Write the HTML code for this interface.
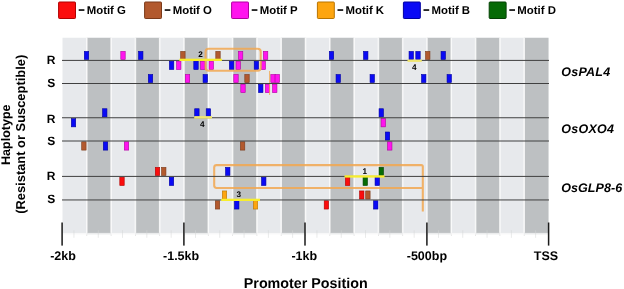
<!DOCTYPE html>
<html><head><meta charset="utf-8"><title>Promoter motifs</title>
<style>
html,body{margin:0;padding:0;background:#fff;}
body{width:624px;height:289px;overflow:hidden;font-family:"Liberation Sans",sans-serif;}
svg{display:block;will-change:transform;}
text{font-family:"Liberation Sans",sans-serif;font-weight:bold;fill:#000;text-rendering:geometricPrecision;}
</style></head><body>
<svg width="624" height="289" viewBox="0 0 624 289">
<rect x="0" y="0" width="624" height="289" fill="#fff"/>
<rect x="62.50" y="37.75" width="24.35" height="195.15" fill="#e7e9ec"/>
<rect x="86.80" y="37.75" width="24.35" height="195.15" fill="#bdc0c2"/>
<rect x="111.10" y="37.75" width="24.35" height="195.15" fill="#e7e9ec"/>
<rect x="135.40" y="37.75" width="24.35" height="195.15" fill="#bdc0c2"/>
<rect x="159.70" y="37.75" width="24.35" height="195.15" fill="#e7e9ec"/>
<rect x="184.00" y="37.75" width="24.35" height="195.15" fill="#bdc0c2"/>
<rect x="208.30" y="37.75" width="24.35" height="195.15" fill="#e7e9ec"/>
<rect x="232.60" y="37.75" width="24.35" height="195.15" fill="#bdc0c2"/>
<rect x="256.90" y="37.75" width="24.35" height="195.15" fill="#e7e9ec"/>
<rect x="281.20" y="37.75" width="24.35" height="195.15" fill="#bdc0c2"/>
<rect x="305.50" y="37.75" width="24.35" height="195.15" fill="#e7e9ec"/>
<rect x="329.80" y="37.75" width="24.35" height="195.15" fill="#bdc0c2"/>
<rect x="354.10" y="37.75" width="24.35" height="195.15" fill="#e7e9ec"/>
<rect x="378.40" y="37.75" width="24.35" height="195.15" fill="#bdc0c2"/>
<rect x="402.70" y="37.75" width="24.35" height="195.15" fill="#e7e9ec"/>
<rect x="427.00" y="37.75" width="24.35" height="195.15" fill="#bdc0c2"/>
<rect x="451.30" y="37.75" width="24.35" height="195.15" fill="#e7e9ec"/>
<rect x="475.60" y="37.75" width="24.35" height="195.15" fill="#bdc0c2"/>
<rect x="499.90" y="37.75" width="24.35" height="195.15" fill="#e7e9ec"/>
<rect x="524.20" y="37.75" width="24.35" height="195.15" fill="#bdc0c2"/>
<rect x="86.00" y="37.75" width="1.6" height="195.15" fill="#fff" opacity="0.75"/>
<rect x="110.30" y="37.75" width="1.6" height="195.15" fill="#fff" opacity="0.75"/>
<rect x="134.60" y="37.75" width="1.6" height="195.15" fill="#fff" opacity="0.75"/>
<rect x="158.90" y="37.75" width="1.6" height="195.15" fill="#fff" opacity="0.75"/>
<rect x="183.20" y="37.75" width="1.6" height="195.15" fill="#fff" opacity="0.75"/>
<rect x="207.50" y="37.75" width="1.6" height="195.15" fill="#fff" opacity="0.75"/>
<rect x="231.80" y="37.75" width="1.6" height="195.15" fill="#fff" opacity="0.75"/>
<rect x="256.10" y="37.75" width="1.6" height="195.15" fill="#fff" opacity="0.75"/>
<rect x="280.40" y="37.75" width="1.6" height="195.15" fill="#fff" opacity="0.75"/>
<rect x="304.70" y="37.75" width="1.6" height="195.15" fill="#fff" opacity="0.75"/>
<rect x="329.00" y="37.75" width="1.6" height="195.15" fill="#fff" opacity="0.75"/>
<rect x="353.30" y="37.75" width="1.6" height="195.15" fill="#fff" opacity="0.75"/>
<rect x="377.60" y="37.75" width="1.6" height="195.15" fill="#fff" opacity="0.75"/>
<rect x="401.90" y="37.75" width="1.6" height="195.15" fill="#fff" opacity="0.75"/>
<rect x="426.20" y="37.75" width="1.6" height="195.15" fill="#fff" opacity="0.75"/>
<rect x="450.50" y="37.75" width="1.6" height="195.15" fill="#fff" opacity="0.75"/>
<rect x="474.80" y="37.75" width="1.6" height="195.15" fill="#fff" opacity="0.75"/>
<rect x="499.10" y="37.75" width="1.6" height="195.15" fill="#fff" opacity="0.75"/>
<rect x="523.40" y="37.75" width="1.6" height="195.15" fill="#fff" opacity="0.75"/>
<rect x="62.50" y="232.9" width="24.35" height="1.6" fill="#e7e9ec" opacity="0.3"/>
<rect x="86.80" y="232.9" width="24.35" height="1.6" fill="#bdc0c2" opacity="0.3"/>
<rect x="111.10" y="232.9" width="24.35" height="1.6" fill="#e7e9ec" opacity="0.3"/>
<rect x="135.40" y="232.9" width="24.35" height="1.6" fill="#bdc0c2" opacity="0.3"/>
<rect x="159.70" y="232.9" width="24.35" height="1.6" fill="#e7e9ec" opacity="0.3"/>
<rect x="184.00" y="232.9" width="24.35" height="1.6" fill="#bdc0c2" opacity="0.3"/>
<rect x="208.30" y="232.9" width="24.35" height="1.6" fill="#e7e9ec" opacity="0.3"/>
<rect x="232.60" y="232.9" width="24.35" height="1.6" fill="#bdc0c2" opacity="0.3"/>
<rect x="256.90" y="232.9" width="24.35" height="1.6" fill="#e7e9ec" opacity="0.3"/>
<rect x="281.20" y="232.9" width="24.35" height="1.6" fill="#bdc0c2" opacity="0.3"/>
<rect x="305.50" y="232.9" width="24.35" height="1.6" fill="#e7e9ec" opacity="0.3"/>
<rect x="329.80" y="232.9" width="24.35" height="1.6" fill="#bdc0c2" opacity="0.3"/>
<rect x="354.10" y="232.9" width="24.35" height="1.6" fill="#e7e9ec" opacity="0.3"/>
<rect x="378.40" y="232.9" width="24.35" height="1.6" fill="#bdc0c2" opacity="0.3"/>
<rect x="402.70" y="232.9" width="24.35" height="1.6" fill="#e7e9ec" opacity="0.3"/>
<rect x="427.00" y="232.9" width="24.35" height="1.6" fill="#bdc0c2" opacity="0.3"/>
<rect x="451.30" y="232.9" width="24.35" height="1.6" fill="#e7e9ec" opacity="0.3"/>
<rect x="475.60" y="232.9" width="24.35" height="1.6" fill="#bdc0c2" opacity="0.3"/>
<rect x="499.90" y="232.9" width="24.35" height="1.6" fill="#e7e9ec" opacity="0.3"/>
<rect x="524.20" y="232.9" width="24.35" height="1.6" fill="#bdc0c2" opacity="0.3"/>
<rect x="73.50" y="230.2" width="0.9" height="7.6" fill="#d4d5d6" opacity="0.55"/>
<rect x="97.80" y="230.2" width="0.9" height="7.6" fill="#d4d5d6" opacity="0.55"/>
<rect x="122.10" y="230.2" width="0.9" height="7.6" fill="#d4d5d6" opacity="0.55"/>
<rect x="146.40" y="230.2" width="0.9" height="7.6" fill="#d4d5d6" opacity="0.55"/>
<rect x="170.70" y="230.2" width="0.9" height="7.6" fill="#d4d5d6" opacity="0.55"/>
<rect x="195.00" y="230.2" width="0.9" height="7.6" fill="#d4d5d6" opacity="0.55"/>
<rect x="219.30" y="230.2" width="0.9" height="7.6" fill="#d4d5d6" opacity="0.55"/>
<rect x="243.60" y="230.2" width="0.9" height="7.6" fill="#d4d5d6" opacity="0.55"/>
<rect x="267.90" y="230.2" width="0.9" height="7.6" fill="#d4d5d6" opacity="0.55"/>
<rect x="292.20" y="230.2" width="0.9" height="7.6" fill="#d4d5d6" opacity="0.55"/>
<rect x="316.50" y="230.2" width="0.9" height="7.6" fill="#d4d5d6" opacity="0.55"/>
<rect x="340.80" y="230.2" width="0.9" height="7.6" fill="#d4d5d6" opacity="0.55"/>
<rect x="365.10" y="230.2" width="0.9" height="7.6" fill="#d4d5d6" opacity="0.55"/>
<rect x="389.40" y="230.2" width="0.9" height="7.6" fill="#d4d5d6" opacity="0.55"/>
<rect x="413.70" y="230.2" width="0.9" height="7.6" fill="#d4d5d6" opacity="0.55"/>
<rect x="438.00" y="230.2" width="0.9" height="7.6" fill="#d4d5d6" opacity="0.55"/>
<rect x="462.30" y="230.2" width="0.9" height="7.6" fill="#d4d5d6" opacity="0.55"/>
<rect x="486.60" y="230.2" width="0.9" height="7.6" fill="#d4d5d6" opacity="0.55"/>
<rect x="510.90" y="230.2" width="0.9" height="7.6" fill="#d4d5d6" opacity="0.55"/>
<rect x="535.20" y="230.2" width="0.9" height="7.6" fill="#d4d5d6" opacity="0.55"/>
<rect x="86.40" y="234.5" width="0.8" height="1.4" fill="#dedede"/>
<rect x="110.70" y="234.5" width="0.8" height="1.4" fill="#dedede"/>
<rect x="135.00" y="234.5" width="0.8" height="1.4" fill="#dedede"/>
<rect x="159.30" y="234.5" width="0.8" height="1.4" fill="#dedede"/>
<rect x="183.60" y="234.5" width="0.8" height="1.4" fill="#dedede"/>
<rect x="207.90" y="234.5" width="0.8" height="1.4" fill="#dedede"/>
<rect x="232.20" y="234.5" width="0.8" height="1.4" fill="#dedede"/>
<rect x="256.50" y="234.5" width="0.8" height="1.4" fill="#dedede"/>
<rect x="280.80" y="234.5" width="0.8" height="1.4" fill="#dedede"/>
<rect x="305.10" y="234.5" width="0.8" height="1.4" fill="#dedede"/>
<rect x="329.40" y="234.5" width="0.8" height="1.4" fill="#dedede"/>
<rect x="353.70" y="234.5" width="0.8" height="1.4" fill="#dedede"/>
<rect x="378.00" y="234.5" width="0.8" height="1.4" fill="#dedede"/>
<rect x="402.30" y="234.5" width="0.8" height="1.4" fill="#dedede"/>
<rect x="426.60" y="234.5" width="0.8" height="1.4" fill="#dedede"/>
<rect x="450.90" y="234.5" width="0.8" height="1.4" fill="#dedede"/>
<rect x="475.20" y="234.5" width="0.8" height="1.4" fill="#dedede"/>
<rect x="499.50" y="234.5" width="0.8" height="1.4" fill="#dedede"/>
<rect x="523.80" y="234.5" width="0.8" height="1.4" fill="#dedede"/>
<rect x="58.60" y="2.0" width="16.9" height="16.5" rx="0.8" fill="#fb0d0d" stroke="#b00000" stroke-width="1"/>
<rect x="78.70" y="9.2" width="5.7" height="1.7" fill="#111"/>
<text x="86.70" y="13.8" font-size="11.4">Motif G</text>
<rect x="144.60" y="2.0" width="16.9" height="16.5" rx="0.8" fill="#b2592e" stroke="#7a3a1a" stroke-width="1"/>
<rect x="164.70" y="9.2" width="5.7" height="1.7" fill="#111"/>
<text x="172.70" y="13.8" font-size="11.4">Motif O</text>
<rect x="231.60" y="2.0" width="16.9" height="16.5" rx="0.8" fill="#ff14ee" stroke="#b000a0" stroke-width="1"/>
<rect x="251.70" y="9.2" width="5.7" height="1.7" fill="#111"/>
<text x="259.70" y="13.8" font-size="11.4">Motif P</text>
<rect x="317.40" y="2.0" width="16.9" height="16.5" rx="0.8" fill="#fda50f" stroke="#b87400" stroke-width="1"/>
<rect x="337.50" y="9.2" width="5.7" height="1.7" fill="#111"/>
<text x="345.50" y="13.8" font-size="11.4">Motif K</text>
<rect x="403.40" y="2.0" width="16.9" height="16.5" rx="0.8" fill="#0a0af5" stroke="#0000a0" stroke-width="1"/>
<rect x="423.50" y="9.2" width="5.7" height="1.7" fill="#111"/>
<text x="431.50" y="13.8" font-size="11.4">Motif B</text>
<rect x="489.20" y="2.0" width="16.9" height="16.5" rx="0.8" fill="#066a06" stroke="#034003" stroke-width="1"/>
<rect x="509.30" y="9.2" width="5.7" height="1.7" fill="#111"/>
<text x="517.30" y="13.8" font-size="11.4">Motif D</text>
<rect x="84.30" y="51.40" width="4.4" height="8.10" fill="#0a0af5" stroke="#0000a0" stroke-width="0.6"/>
<rect x="120.80" y="51.40" width="4.4" height="8.10" fill="#ff14ee" stroke="#b000a0" stroke-width="0.6"/>
<rect x="138.55" y="51.40" width="4.4" height="8.10" fill="#0a0af5" stroke="#0000a0" stroke-width="0.6"/>
<rect x="180.70" y="51.40" width="4.4" height="8.10" fill="#b2592e" stroke="#7a3a1a" stroke-width="0.6"/>
<rect x="215.80" y="51.40" width="4.4" height="8.10" fill="#b2592e" stroke="#7a3a1a" stroke-width="0.6"/>
<rect x="238.40" y="51.40" width="4.4" height="8.10" fill="#ff14ee" stroke="#b000a0" stroke-width="0.6"/>
<rect x="263.40" y="51.40" width="4.4" height="8.10" fill="#ff14ee" stroke="#b000a0" stroke-width="0.6"/>
<rect x="329.30" y="51.40" width="4.4" height="8.10" fill="#0a0af5" stroke="#0000a0" stroke-width="0.6"/>
<rect x="363.55" y="51.40" width="4.4" height="8.10" fill="#0a0af5" stroke="#0000a0" stroke-width="0.6"/>
<rect x="409.05" y="51.40" width="4.4" height="8.10" fill="#0a0af5" stroke="#0000a0" stroke-width="0.6"/>
<rect x="415.80" y="51.40" width="4.4" height="8.10" fill="#0a0af5" stroke="#0000a0" stroke-width="0.6"/>
<rect x="425.55" y="51.40" width="4.4" height="8.10" fill="#b2592e" stroke="#7a3a1a" stroke-width="0.6"/>
<rect x="441.05" y="51.40" width="4.4" height="8.10" fill="#0a0af5" stroke="#0000a0" stroke-width="0.6"/>
<rect x="169.40" y="61.20" width="4.4" height="8.30" fill="#0a0af5" stroke="#0000a0" stroke-width="0.6"/>
<rect x="176.55" y="61.20" width="4.4" height="8.30" fill="#ff14ee" stroke="#b000a0" stroke-width="0.6"/>
<rect x="193.80" y="61.20" width="4.4" height="8.30" fill="#0a0af5" stroke="#0000a0" stroke-width="0.6"/>
<rect x="200.55" y="61.20" width="4.4" height="8.30" fill="#ff14ee" stroke="#b000a0" stroke-width="0.6"/>
<rect x="209.05" y="61.20" width="4.4" height="8.30" fill="#ff14ee" stroke="#b000a0" stroke-width="0.6"/>
<rect x="229.40" y="61.20" width="4.4" height="8.30" fill="#0a0af5" stroke="#0000a0" stroke-width="0.6"/>
<rect x="236.05" y="61.20" width="4.4" height="8.30" fill="#ff14ee" stroke="#b000a0" stroke-width="0.6"/>
<rect x="254.20" y="61.20" width="4.4" height="8.30" fill="#0a0af5" stroke="#0000a0" stroke-width="0.6"/>
<rect x="261.05" y="61.20" width="4.4" height="8.30" fill="#ff14ee" stroke="#b000a0" stroke-width="0.6"/>
<rect x="148.30" y="74.50" width="4.4" height="8.10" fill="#0a0af5" stroke="#0000a0" stroke-width="0.6"/>
<rect x="185.30" y="74.50" width="4.4" height="8.10" fill="#ff14ee" stroke="#b000a0" stroke-width="0.6"/>
<rect x="203.05" y="74.50" width="4.4" height="8.10" fill="#0a0af5" stroke="#0000a0" stroke-width="0.6"/>
<rect x="233.80" y="74.50" width="4.4" height="8.10" fill="#ff14ee" stroke="#b000a0" stroke-width="0.6"/>
<rect x="244.80" y="74.50" width="4.4" height="8.10" fill="#b2592e" stroke="#7a3a1a" stroke-width="0.6"/>
<rect x="270.80" y="74.50" width="4.4" height="8.10" fill="#ff14ee" stroke="#b000a0" stroke-width="0.6"/>
<rect x="275.05" y="74.50" width="4.4" height="8.10" fill="#ff14ee" stroke="#b000a0" stroke-width="0.6"/>
<rect x="336.05" y="74.50" width="4.4" height="8.10" fill="#0a0af5" stroke="#0000a0" stroke-width="0.6"/>
<rect x="370.05" y="74.50" width="4.4" height="8.10" fill="#0a0af5" stroke="#0000a0" stroke-width="0.6"/>
<rect x="421.55" y="74.50" width="4.4" height="8.10" fill="#0a0af5" stroke="#0000a0" stroke-width="0.6"/>
<rect x="447.05" y="74.50" width="4.4" height="8.10" fill="#0a0af5" stroke="#0000a0" stroke-width="0.6"/>
<rect x="240.80" y="84.30" width="4.4" height="8.30" fill="#ff14ee" stroke="#b000a0" stroke-width="0.6"/>
<rect x="258.55" y="84.30" width="4.4" height="8.30" fill="#0a0af5" stroke="#0000a0" stroke-width="0.6"/>
<rect x="265.30" y="84.30" width="4.4" height="8.30" fill="#ff14ee" stroke="#b000a0" stroke-width="0.6"/>
<rect x="272.55" y="84.30" width="4.4" height="8.30" fill="#ff14ee" stroke="#b000a0" stroke-width="0.6"/>
<rect x="102.55" y="108.75" width="4.4" height="8.10" fill="#0a0af5" stroke="#0000a0" stroke-width="0.6"/>
<rect x="194.70" y="108.75" width="4.4" height="8.10" fill="#0a0af5" stroke="#0000a0" stroke-width="0.6"/>
<rect x="206.20" y="108.75" width="4.4" height="8.10" fill="#0a0af5" stroke="#0000a0" stroke-width="0.6"/>
<rect x="379.05" y="108.75" width="4.4" height="8.10" fill="#0a0af5" stroke="#0000a0" stroke-width="0.6"/>
<rect x="71.30" y="118.55" width="4.4" height="8.30" fill="#0a0af5" stroke="#0000a0" stroke-width="0.6"/>
<rect x="381.05" y="118.55" width="4.4" height="8.30" fill="#ff14ee" stroke="#b000a0" stroke-width="0.6"/>
<rect x="385.30" y="132.00" width="4.4" height="8.10" fill="#0a0af5" stroke="#0000a0" stroke-width="0.6"/>
<rect x="81.70" y="141.80" width="4.4" height="8.30" fill="#b2592e" stroke="#7a3a1a" stroke-width="0.6"/>
<rect x="103.30" y="141.80" width="4.4" height="8.30" fill="#0a0af5" stroke="#0000a0" stroke-width="0.6"/>
<rect x="124.30" y="141.80" width="4.4" height="8.30" fill="#ff14ee" stroke="#b000a0" stroke-width="0.6"/>
<rect x="240.40" y="141.80" width="4.4" height="8.30" fill="#b2592e" stroke="#7a3a1a" stroke-width="0.6"/>
<rect x="387.55" y="141.80" width="4.4" height="8.30" fill="#ff14ee" stroke="#b000a0" stroke-width="0.6"/>
<rect x="155.30" y="167.40" width="4.4" height="8.10" fill="#fb0d0d" stroke="#b00000" stroke-width="0.6"/>
<rect x="161.55" y="167.40" width="4.4" height="8.10" fill="#b2592e" stroke="#7a3a1a" stroke-width="0.6"/>
<rect x="225.55" y="167.40" width="4.4" height="8.10" fill="#0a0af5" stroke="#0000a0" stroke-width="0.6"/>
<rect x="379.05" y="167.40" width="4.4" height="8.10" fill="#066a06" stroke="#034003" stroke-width="0.6"/>
<rect x="119.80" y="177.20" width="4.4" height="8.30" fill="#fb0d0d" stroke="#b00000" stroke-width="0.6"/>
<rect x="169.30" y="177.20" width="4.4" height="8.30" fill="#0a0af5" stroke="#0000a0" stroke-width="0.6"/>
<rect x="261.55" y="177.20" width="4.4" height="8.30" fill="#0a0af5" stroke="#0000a0" stroke-width="0.6"/>
<rect x="345.40" y="177.20" width="4.4" height="8.30" fill="#fb0d0d" stroke="#b00000" stroke-width="0.6"/>
<rect x="363.05" y="177.20" width="4.4" height="8.30" fill="#066a06" stroke="#034003" stroke-width="0.6"/>
<rect x="375.05" y="177.20" width="4.4" height="8.30" fill="#0a0af5" stroke="#0000a0" stroke-width="0.6"/>
<rect x="222.30" y="190.95" width="4.4" height="8.10" fill="#fda50f" stroke="#b87400" stroke-width="0.6"/>
<rect x="359.55" y="190.95" width="4.4" height="8.10" fill="#fb0d0d" stroke="#b00000" stroke-width="0.6"/>
<rect x="365.70" y="190.95" width="4.4" height="8.10" fill="#b2592e" stroke="#7a3a1a" stroke-width="0.6"/>
<rect x="215.30" y="200.75" width="4.4" height="8.30" fill="#b2592e" stroke="#7a3a1a" stroke-width="0.6"/>
<rect x="234.55" y="200.75" width="4.4" height="8.30" fill="#0a0af5" stroke="#0000a0" stroke-width="0.6"/>
<rect x="253.30" y="200.75" width="4.4" height="8.30" fill="#fda50f" stroke="#b87400" stroke-width="0.6"/>
<rect x="324.20" y="200.75" width="4.4" height="8.30" fill="#fb0d0d" stroke="#b00000" stroke-width="0.6"/>
<rect x="373.55" y="200.75" width="4.4" height="8.30" fill="#0a0af5" stroke="#0000a0" stroke-width="0.6"/>
<g opacity="0.85">
<rect x="205.6" y="48.8" width="55.1" height="22" rx="3" ry="3" fill="none" stroke="#f2a851" stroke-width="2.1"/>
<rect x="269.1" y="71" width="1" height="24" fill="#f2a851"/>
<path d="M422.8 211.5 V166.6 Q422.8 165.1 421.3 165.1 H216.6 Q214.2 165.1 214.2 167.5 V185.6 Q214.2 188 216.6 188 H422.8" fill="none" stroke="#f2a851" stroke-width="2.1"/>
</g>
<rect x="62" y="59.90" width="487" height="1.0" fill="#404040"/>
<rect x="62" y="83.00" width="487" height="1.0" fill="#404040"/>
<rect x="62" y="117.25" width="487" height="1.0" fill="#404040"/>
<rect x="62" y="140.50" width="487" height="1.0" fill="#404040"/>
<rect x="62" y="175.90" width="487" height="1.0" fill="#404040"/>
<rect x="62" y="199.45" width="487" height="1.0" fill="#404040"/>
<rect x="179.4" y="58.7" width="42.5" height="2.3" fill="#f7ee2e"/>
<rect x="407.5" y="59.6" width="14.3" height="2.3" fill="#f0e670"/>
<rect x="194.2" y="116.1" width="17.8" height="2.5" fill="#f0e670"/>
<rect x="344.5" y="175.3" width="40" height="2.3" fill="#f7ee2e"/>
<rect x="221.2" y="198.7" width="38.8" height="2.3" fill="#f7ee2e"/>
<text x="198.3" y="56.9" font-size="8.2">2</text>
<text x="411.9" y="69.5" font-size="8.2">4</text>
<text x="199.9" y="127" font-size="8.2">4</text>
<text x="236.5" y="197" font-size="8.2">3</text>
<text x="362.6" y="174" font-size="8.2">1</text>
<text x="51.2" y="64.25" font-size="12" text-anchor="middle">R</text>
<text x="51.2" y="86.55" font-size="12" text-anchor="middle">S</text>
<text x="51.2" y="122.80" font-size="12" text-anchor="middle">R</text>
<text x="51.2" y="145.10" font-size="12" text-anchor="middle">S</text>
<text x="51.2" y="180.40" font-size="12" text-anchor="middle">R</text>
<text x="51.2" y="202.90" font-size="12" text-anchor="middle">S</text>
<text x="561.3" y="75.9" font-size="12.5" font-style="italic" letter-spacing="0.22">OsPAL4</text>
<text x="561.3" y="133.1" font-size="12.5" font-style="italic" letter-spacing="0.27">OsOXO4</text>
<text x="561.3" y="191.5" font-size="12.5" font-style="italic" letter-spacing="0.05">OsGLP8-6</text>
<rect x="61.35" y="222.5" width="1.5" height="23.1" fill="#1a1a1a"/>
<rect x="183.15" y="222.5" width="1.5" height="23.1" fill="#1a1a1a"/>
<rect x="304.25" y="222.5" width="1.5" height="23.1" fill="#1a1a1a"/>
<rect x="426.15" y="222.5" width="1.5" height="23.1" fill="#1a1a1a"/>
<rect x="547.85" y="222.5" width="1.5" height="23.1" fill="#1a1a1a"/>
<text x="63.0" y="260.4" font-size="12.5" text-anchor="middle">-2kb</text>
<text x="181.1" y="260.4" font-size="12.5" text-anchor="middle">-1.5kb</text>
<text x="304.25" y="260.4" font-size="12.5" text-anchor="middle">-1kb</text>
<text x="426.9" y="260.4" font-size="12.5" text-anchor="middle">-500bp</text>
<text x="546.0" y="260.4" font-size="12.5" text-anchor="middle">TSS</text>
<text x="305.75" y="287.6" font-size="14.3" text-anchor="middle">Promoter Position</text>
<text transform="translate(10.3,134.7) rotate(-90)" font-size="12.5" text-anchor="middle">Haplotype</text>
<text transform="translate(24.8,134.3) rotate(-90)" font-size="12.9" text-anchor="middle">(Resistant or Susceptible)</text>
</svg>
</body></html>
